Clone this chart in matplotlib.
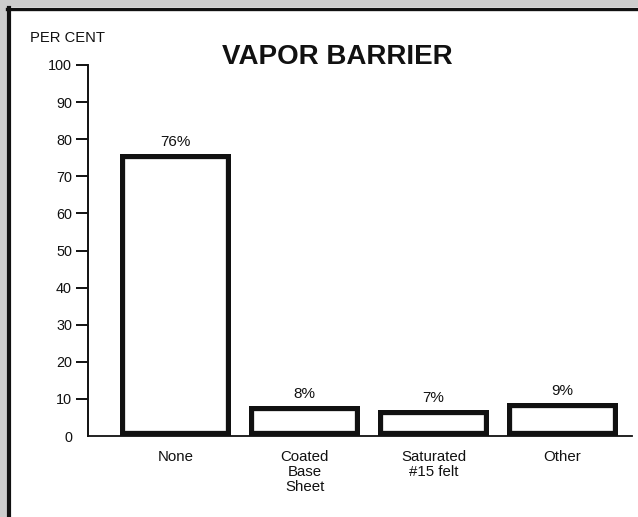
import matplotlib
matplotlib.use("Agg")
import matplotlib.pyplot as plt
from matplotlib.patches import Rectangle
from matplotlib.lines import Line2D

plt.rcParams['font.family'] = ['Liberation Sans', 'DejaVu Sans']

# Data
categories = ["None", "Coated\nBase\nSheet", "Saturated\n#15 felt", "Other"]
values = [76, 8, 7, 9]
value_labels = ["76%", "8%", "7%", "9%"]
yticks = [0, 10, 20, 30, 40, 50, 60, 70, 80, 90, 100]

W, H = 638, 517
fig = plt.figure(figsize=(W / 100, H / 100), dpi=100)
fig.patch.set_facecolor("#cdcdcd")

# white page with heavy rule along top and left edges
fig.add_artist(Rectangle((7 / W, 0), 1, (H - 7) / H, transform=fig.transFigure,
                         facecolor="white", edgecolor="none", zorder=0))
fig.add_artist(Line2D([7 / W, 1], [1 - 8.5 / H, 1 - 8.5 / H], transform=fig.transFigure,
                      color="#111111", linewidth=2.4, zorder=1))
fig.add_artist(Line2D([9 / W, 9 / W], [0, 1 - 7.5 / H], transform=fig.transFigure,
                      color="#111111", linewidth=3.0, zorder=1))

ax = fig.add_axes([88 / W, 81 / H, (632 - 88) / W, (436 - 65) / H])
ax.set_facecolor("none")

x = list(range(len(categories)))
bars = ax.bar(x, values, width=0.86, facecolor="white", edgecolor="#111111",
              linewidth=7.4, zorder=3)
for b in bars:
    b.set_clip_path(b)

for xi, v, lab in zip(x, values, value_labels):
    ax.annotate(lab, (xi, v), xytext=(0, 3.5), textcoords="offset points",
                ha="center", va="bottom", fontsize=11, color="#111111")

ax.set_xlim(-0.68, 3.54)
ax.set_ylim(0, 100)

for s in ["top", "right"]:
    ax.spines[s].set_visible(False)
ax.spines["left"].set_linewidth(1.4)
ax.spines["bottom"].set_linewidth(1.3)
ax.spines["left"].set_color("#111111")
ax.spines["bottom"].set_color("#111111")

ax.set_yticks(yticks)
ax.set_yticklabels([str(t) for t in yticks])
ax.tick_params(axis="y", length=8.6, width=1.4, pad=3, labelsize=10.4,
               color="#111111", labelcolor="#111111")
ax.yaxis.get_major_ticks()[0].tick1line.set_visible(False)

ax.set_xticks(x)
ax.set_xticklabels(categories, fontsize=10.8, linespacing=1.1, color="#111111")
ax.tick_params(axis="x", length=0, pad=10)

fig.text(337 / W, 1 - 57 / H, "VAPOR BARRIER", ha="center", va="center",
         fontsize=20, fontweight="bold", color="#111111")
fig.text(30 / W, 1 - 38 / H, "PER CENT", ha="left", va="center",
         fontsize=10.6, color="#111111")

fig.savefig("out.png", dpi=100)
